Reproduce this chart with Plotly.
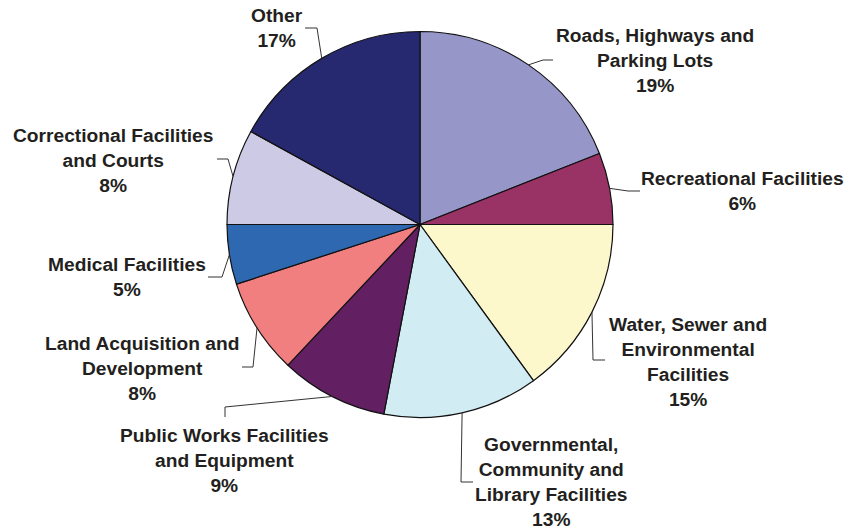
import math
import plotly.graph_objects as go

# Capital spending by category (percent of total)
categories = [
    "Roads, Highways and<br>Parking Lots",
    "Recreational Facilities",
    "Water, Sewer and<br>Environmental<br>Facilities",
    "Governmental,<br>Community and<br>Library Facilities",
    "Public Works Facilities<br>and Equipment",
    "Land Acquisition and<br>Development",
    "Medical Facilities",
    "Correctional Facilities<br>and Courts",
    "Other",
]
shares = [19, 6, 15, 13, 9, 8, 5, 8, 17]
colors = ["#9696C8", "#993366", "#FCF8CC", "#D2ECF3", "#621F62",
          "#F27F7F", "#2E68B0", "#CDCAE6", "#262870"]

W, H = 849, 529
CX, CY, R = 420, 224.5, 193

# Label block centres and leader-line elbow/end points (pixels)
label_pos = [(655, 61), (742, 191), (688, 362), (551, 482), (224, 460),
             (142, 368), (127, 277), (113, 160), (277, 28)]
leader_elbow = [(543, 60), (628, 191), (593, 360), (461, 482), (225, 407),
                (253, 367), (222, 277), (228, 159), (317, 28)]
leader_end = [(553, 60), (640, 191), (605, 360), (473, 482), (225, 417),
              (242, 367), (208, 277), (217, 159), (305, 28)]


def px(x):
    return x / W


def py(y):
    return 1 - y / H


fig = go.Figure(go.Pie(
    labels=categories,
    values=shares,
    sort=False,
    direction="clockwise",
    rotation=0,
    textinfo="none",
    hoverinfo="label+percent",
    marker=dict(colors=colors, line=dict(color="#111111", width=1.2)),
    domain=dict(x=[px(CX - R), px(CX + R)], y=[py(CY + R), py(CY - R)]),
    showlegend=False,
))

total = sum(shares)
cum = 0
shapes, annotations = [], []
for i, (cat, v) in enumerate(zip(categories, shares)):
    mid = (cum + v / 2) / total * 2 * math.pi
    cum += v
    ex = CX + R * math.sin(mid)
    ey = CY - R * math.cos(mid)
    bx, by = leader_elbow[i]
    qx, qy = leader_end[i]
    shapes.append(dict(
        type="path", xref="paper", yref="paper",
        path=f"M {px(ex)},{py(ey)} L {px(bx)},{py(by)} L {px(qx)},{py(qy)}",
        line=dict(color="#333333", width=1),
    ))
    lx, ly = label_pos[i]
    annotations.append(dict(
        x=px(lx), y=py(ly), xref="paper", yref="paper",
        xanchor="center", yanchor="middle", showarrow=False,
        align="center",
        text=f"<b>{cat}<br>{v}%</b>",
        font=dict(family="Liberation Sans, Arial, sans-serif", size=19.2,
                  color="#231F20"),
    ))

fig.update_layout(
    width=W, height=H,
    margin=dict(l=0, r=0, t=0, b=0),
    paper_bgcolor="white", plot_bgcolor="white",
    shapes=shapes, annotations=annotations,
)

fig.write_html("out.html")
